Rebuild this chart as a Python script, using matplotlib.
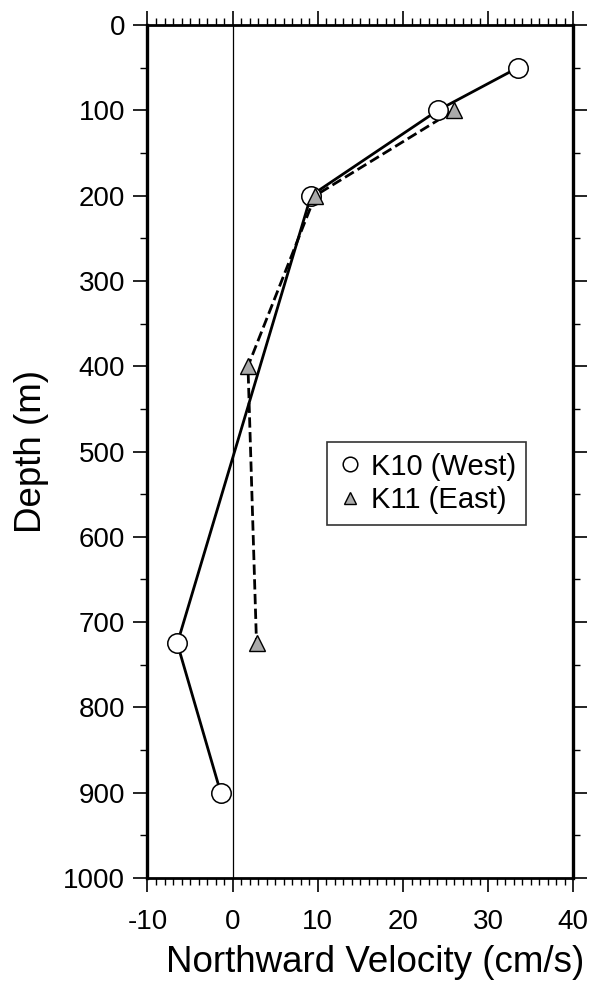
import matplotlib.pyplot as plt
from matplotlib.ticker import MultipleLocator

plt.rcParams['font.family'] = ['Liberation Sans', 'DejaVu Sans']
plt.rcParams['axes.unicode_minus'] = False

# K10 (West) mooring
k10_vel = [33.5, 24.1, 9.2, -6.5, -1.4]
k10_depth = [50, 100, 200, 725, 900]

# K11 (East) mooring
k11_vel = [26.0, 9.7, 1.8, 2.8]
k11_depth = [100, 200, 400, 725]

fig = plt.figure(figsize=(5.94, 9.92), dpi=100)
ax = fig.add_axes([0.2483, 0.1149, 0.7169, 0.8599])

ax.axvline(0, color='black', lw=0.9, zorder=1)

ax.plot(k10_vel, k10_depth, '-', color='black', lw=2, zorder=2)
ax.plot(k11_vel, k11_depth, '--', color='black', lw=2, zorder=2)
ax.plot(k10_vel, k10_depth, 'o', ms=14, mfc='white', mec='black', mew=1.1,
        ls='none', zorder=3, label='K10 (West)')
ax.plot(k11_vel, k11_depth, '^', ms=12, mfc='#aaaaaa', mec='black', mew=1.0,
        ls='none', zorder=4, label='K11 (East)')

ax.set_xlim(-10, 40)
ax.set_ylim(1000, 0)

ax.xaxis.set_major_locator(MultipleLocator(10))
ax.xaxis.set_minor_locator(MultipleLocator(1))
ax.yaxis.set_major_locator(MultipleLocator(100))
ax.yaxis.set_minor_locator(MultipleLocator(50))

ax.tick_params(which='both', direction='out', top=True, right=True,
               labeltop=False, labelright=False, color='black')
ax.tick_params(which='major', length=10, width=1.2, labelsize=20, pad=6)
ax.tick_params(axis='x', which='major', pad=12)
ax.tick_params(which='minor', length=5, width=1.0)

for side in ['left', 'right']:
    ax.spines[side].set_linewidth(2.4)
for side in ['top', 'bottom']:
    ax.spines[side].set_linewidth(2.0)

ax.set_xlabel('Northward Velocity (cm/s)', fontsize=26.5, labelpad=10)
ax.set_ylabel('Depth (m)', fontsize=26.5, labelpad=10)
ax.xaxis.set_label_coords(0.534, -0.079)

leg = ax.legend(loc='center left', bbox_to_anchor=(0.4216, 0.4625), fontsize=21,
                frameon=True, fancybox=False, edgecolor='black',
                handletextpad=0.25, handlelength=0.9, borderpad=0.35,
                labelspacing=0.2, markerscale=0.75, borderaxespad=0)
leg.get_frame().set_linewidth(1.2)

fig.savefig('out.png', dpi=100)
